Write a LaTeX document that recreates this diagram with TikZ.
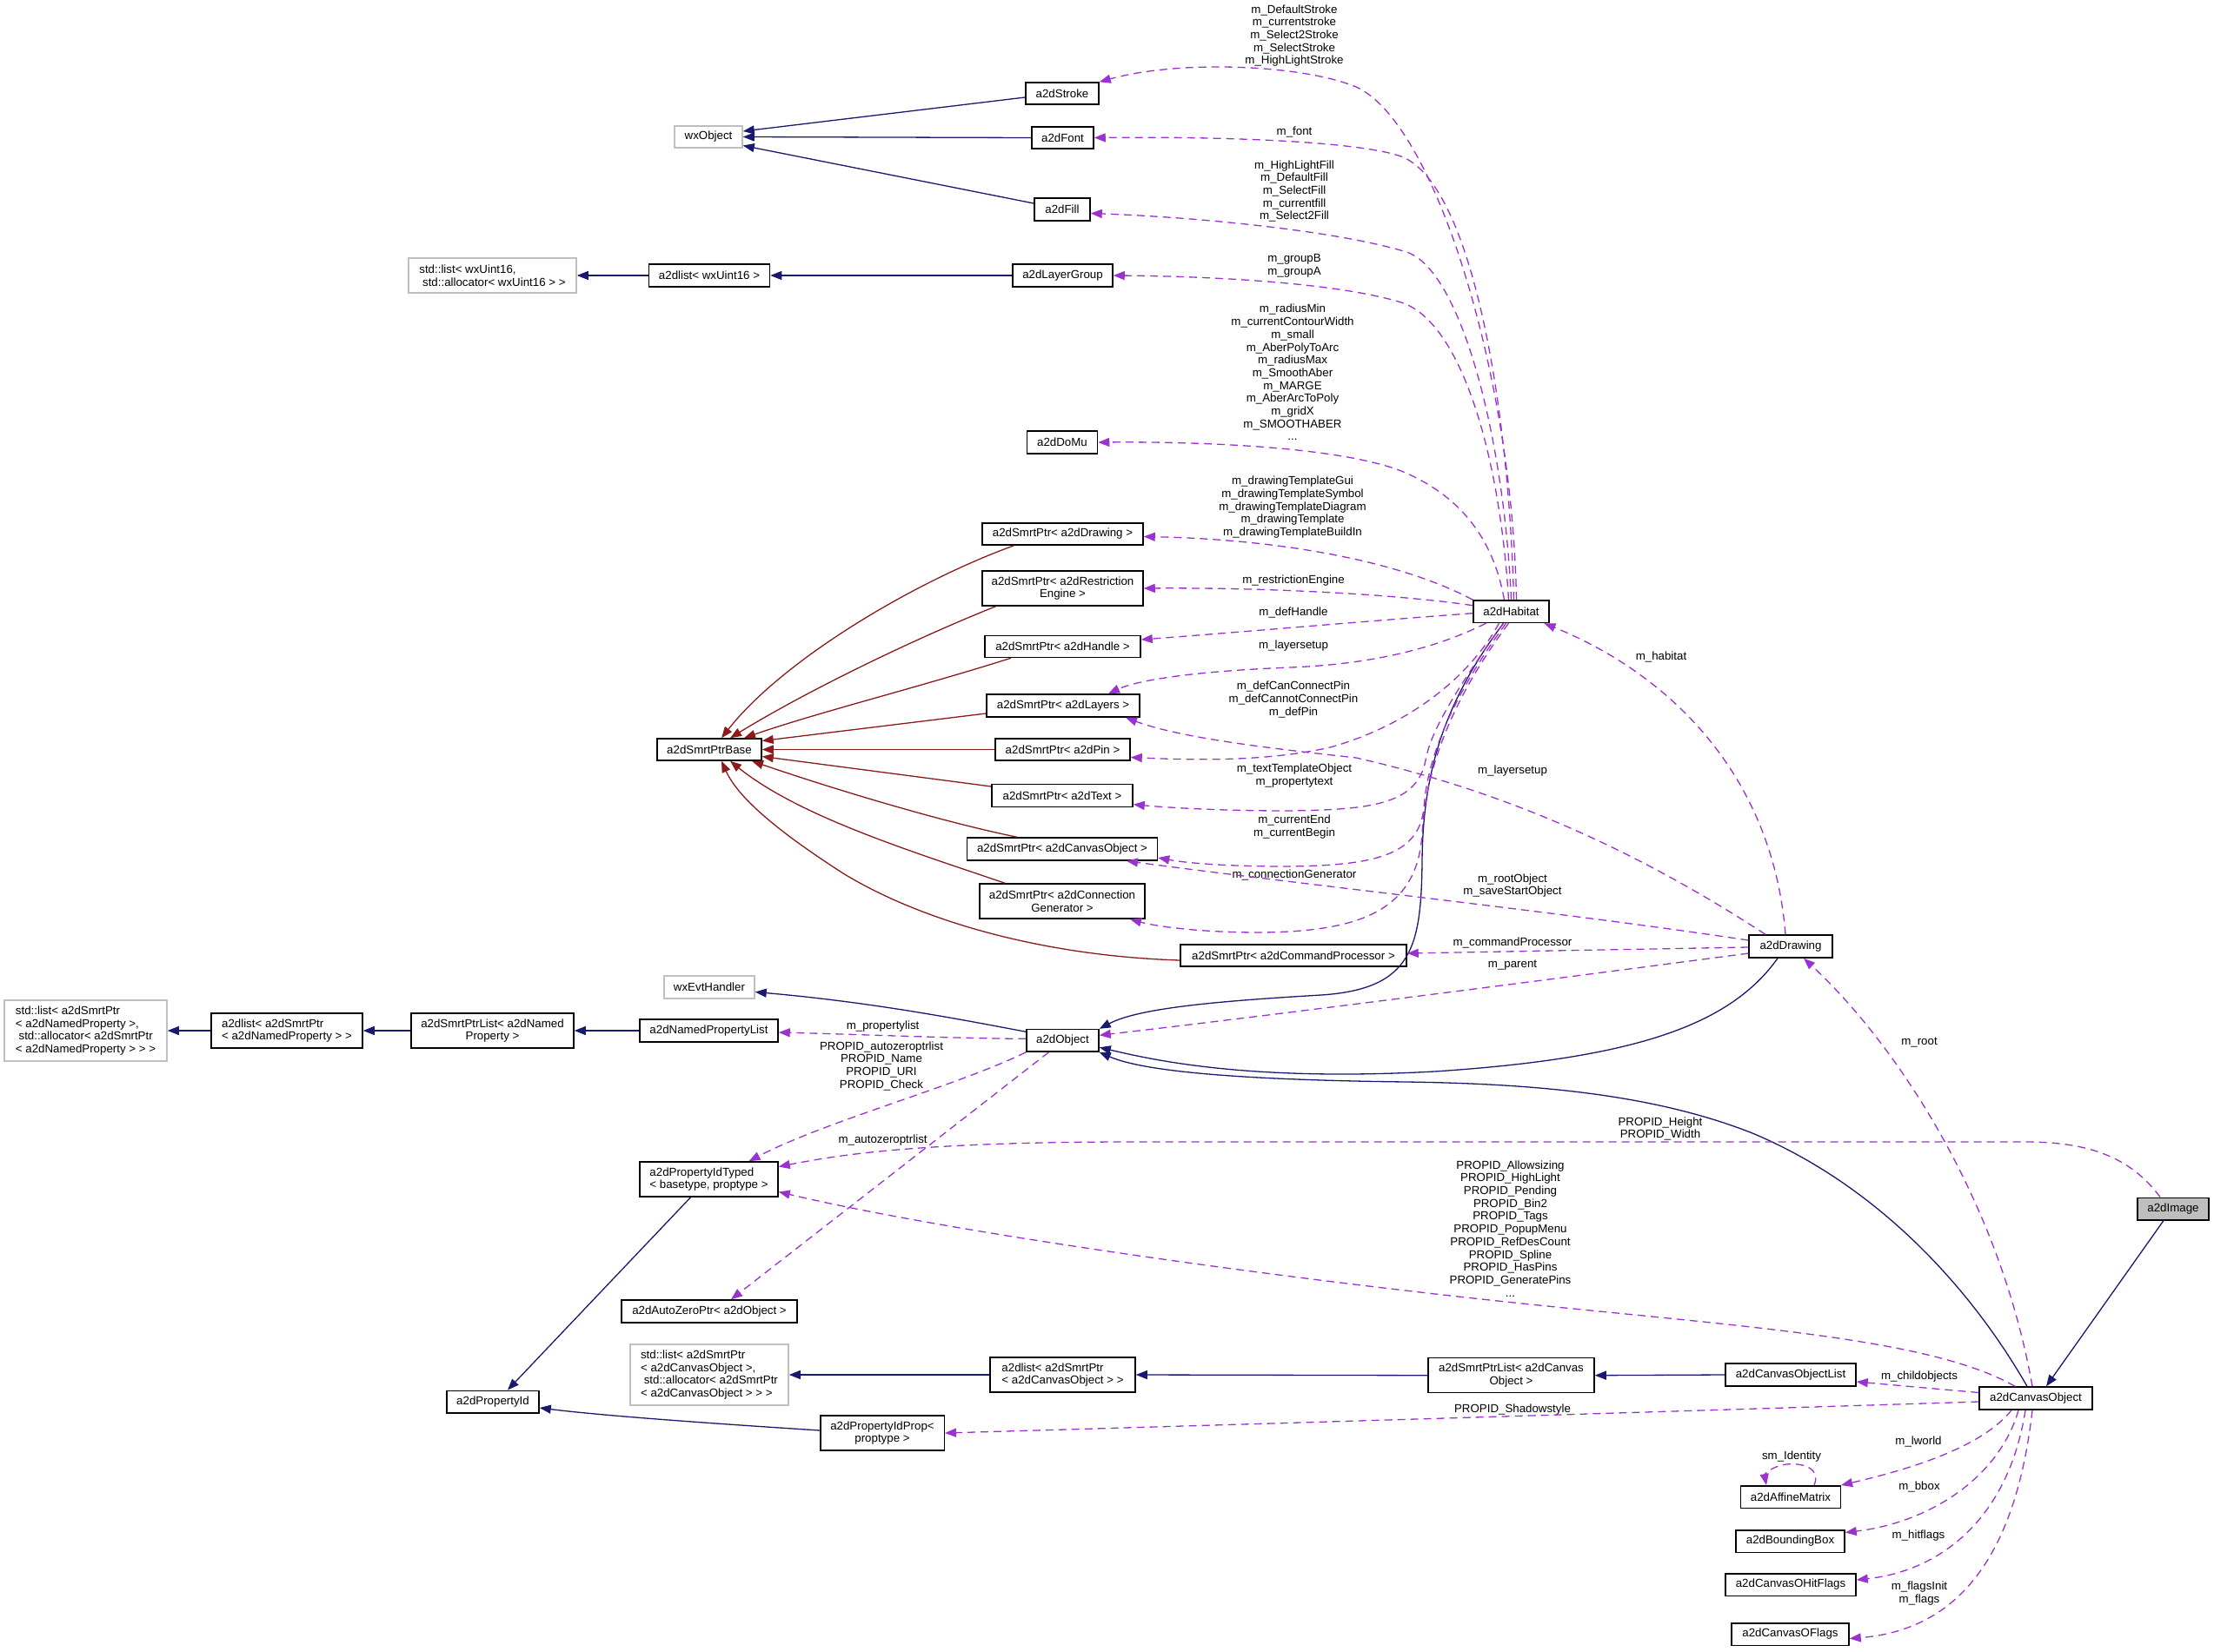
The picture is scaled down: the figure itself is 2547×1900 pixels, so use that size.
\documentclass[tikz,border=0pt]{standalone}
\usepackage{fontspec}
\setmainfont{Liberation Sans}
\usetikzlibrary{arrows.meta}
\definecolor{navyc}{HTML}{191970}
\definecolor{redc}{HTML}{8B1A1A}
\definecolor{purc}{HTML}{9A32CD}
\definecolor{extgray}{HTML}{BFBFBF}
\newcommand{\dgfont}{\fontsize{13.3}{14.7}\selectfont}
\begin{document}
\begin{tikzpicture}[x=1pt,y=-1pt,
  cls/.style={draw=black, fill=white, line width=1.5pt, inner sep=0pt, font=\dgfont, align=center},
  ext/.style={cls, draw=extgray},
  sz/.style 2 args={minimum width=#1pt, minimum height=#2pt},
  lbl/.style={inner sep=0pt, font=\dgfont, align=center},
  inh/.style={draw=navyc, line width=1.3pt, -{Triangle[length=13pt,width=10pt]}},
  priv/.style={draw=redc, line width=1.3pt, -{Triangle[length=13pt,width=10pt]}},
  use/.style={draw=purc, line width=1.3pt, dash pattern=on 9pt off 6pt, -{Triangle[length=13pt,width=10pt]}}]
\useasboundingbox (0,0) rectangle (2547,1900);
\fill[white] (0,0) rectangle (2547,1900);

% nodes
\node[ext, sz={78}{25}] (wxobject) at (815,157.5) {wxObject};
\node[cls, sz={84}{25}] (stroke) at (1222,107.5) {a2dStroke};
\node[cls, sz={71}{25}] (font) at (1222.5,158.5) {a2dFont};
\node[cls, sz={64}{26}] (fill) at (1222,241) {a2dFill};
\node[ext, sz={193}{40}, align=left] (stdlistu) at (566.5,317) {std::list< wxUint16,\\\hspace*{.28em}std::allocator< wxUint16 > >};
\node[cls, sz={139}{26}] (a2dlistu) at (816,317) {a2dlist< wxUint16 >};
\node[cls, sz={115}{26}] (layergroup) at (1222.5,317) {a2dLayerGroup};
\node[cls, sz={81}{26}] (domu) at (1222,509) {a2dDoMu};
\node[cls, sz={185}{25}] (spdrawing) at (1222.5,614.5) {a2dSmrtPtr< a2dDrawing >};
\node[cls, sz={185}{40}] (sprestr) at (1222.5,677) {a2dSmrtPtr< a2dRestriction\\Engine >};
\node[cls, sz={179}{25}] (sphandle) at (1222.5,744) {a2dSmrtPtr< a2dHandle >};
\node[cls, sz={176}{26}] (splayers) at (1223,812) {a2dSmrtPtr< a2dLayers >};
\node[cls, sz={155}{25}] (sppin) at (1222.5,862.5) {a2dSmrtPtr< a2dPin >};
\node[cls, sz={162}{26}] (sptext) at (1222,915.7) {a2dSmrtPtr< a2dText >};
\node[cls, sz={219}{26}] (spco) at (1222,977) {a2dSmrtPtr< a2dCanvasObject >};
\node[cls, sz={190}{40}] (spcg) at (1222,1037) {a2dSmrtPtr< a2dConnection\\Generator >};
\node[cls, sz={260}{25}] (spcmd) at (1488,1099.5) {a2dSmrtPtr< a2dCommandProcessor >};
\node[cls, sz={120}{25}] (spbase) at (816,862.5) {a2dSmrtPtrBase};
\node[cls, sz={87}{25.5}] (habitat) at (1738.5,703.7) {a2dHabitat};
\node[cls, sz={95.6}{26}] (drawing) at (2060,1089) {a2dDrawing};
\node[ext, sz={104}{26}] (wxevt) at (816,1136) {wxEvtHandler};
\node[ext, sz={187}{70}, align=left] (stdlistnp) at (98.5,1186) {std::list< a2dSmrtPtr\\< a2dNamedProperty >,\\\hspace*{.28em}std::allocator< a2dSmrtPtr\\< a2dNamedProperty > > >};
\node[cls, sz={174}{40}, align=left] (a2dlistnp) at (330,1186) {a2dlist< a2dSmrtPtr\\< a2dNamedProperty > >};
\node[cls, sz={187}{40}] (smrtlistnp) at (566.5,1186) {a2dSmrtPtrList< a2dNamed\\Property >};
\node[cls, sz={159}{26}] (nplist) at (815.5,1186) {a2dNamedPropertyList};
\node[cls, sz={83}{25.5}] (a2dobject) at (1222.5,1197.3) {a2dObject};
\node[cls, sz={159}{40}, align=left] (proptyped) at (815.5,1357) {a2dPropertyIdTyped\\< basetype, proptype >};
\node[cls, sz={202}{26}] (autozero) at (816,1509) {a2dAutoZeroPtr< a2dObject >};
\node[ext, sz={182}{70}, align=left] (stdlistco) at (816,1582) {std::list< a2dSmrtPtr\\< a2dCanvasObject >,\\\hspace*{.28em}std::allocator< a2dSmrtPtr\\< a2dCanvasObject > > >};
\node[cls, sz={167}{40}, align=left] (a2dlistco) at (1222.5,1582) {a2dlist< a2dSmrtPtr\\< a2dCanvasObject > >};
\node[cls, sz={106}{25.5}] (propid) at (567,1613) {a2dPropertyId};
\node[cls, sz={142.5}{40}] (propidprop) at (1015,1649) {a2dPropertyIdProp<\\proptype >};
\node[cls, sz={191}{40}] (smrtlistco) at (1738.5,1582.7) {a2dSmrtPtrList< a2dCanvas\\Object >};
\node[cls, sz={150}{26}] (colist) at (2060,1582) {a2dCanvasObjectList};
\node[cls, sz={130}{26}] (canvasobject) at (2342,1609) {a2dCanvasObject};
\node[cls, fill=extgray, sz={82}{25.5}] (image) at (2500,1391) {a2dImage};
\node[cls, sz={114.6}{25.5}] (affine) at (2060,1722.5) {a2dAffineMatrix};
\node[cls, sz={125}{25.5}] (bbox) at (2059.5,1773.5) {a2dBoundingBox};
\node[cls, sz={150}{25.5}] (hitflags) at (2060,1823.5) {a2dCanvasOHitFlags};
\node[cls, sz={135}{25.5}] (oflags) at (2059.5,1880.5) {a2dCanvasOFlags};

% labels
\node[lbl] (l1) at (1489,41) {m\_DefaultStroke\\m\_currentstroke\\m\_Select2Stroke\\m\_SelectStroke\\m\_HighLightStroke};
\node[lbl] (l2) at (1489,152) {m\_font};
\node[lbl] (l3) at (1489,220) {m\_HighLightFill\\m\_DefaultFill\\m\_SelectFill\\m\_currentfill\\m\_Select2Fill};
\node[lbl] (l4) at (1489,306) {m\_groupB\\m\_groupA};
\node[lbl] (l5) at (1487,428.6) {m\_radiusMin\\m\_currentContourWidth\\m\_small\\m\_AberPolyToArc\\m\_radiusMax\\m\_SmoothAber\\m\_MARGE\\m\_AberArcToPoly\\m\_gridX\\m\_SMOOTHABER\\...};
\node[lbl] (l6) at (1487,583.6) {m\_drawingTemplateGui\\m\_drawingTemplateSymbol\\m\_drawingTemplateDiagram\\m\_drawingTemplate\\m\_drawingTemplateBuildIn};
\node[lbl] (l7) at (1488,668.5) {m\_restrictionEngine};
\node[lbl] (l8) at (1488,704.5) {m\_defHandle};
\node[lbl] (l9) at (1488,742.8) {m\_layersetup};
\node[lbl] (l10) at (1488,805) {m\_defCanConnectPin\\m\_defCannotConnectPin\\m\_defPin};
\node[lbl] (l11) at (1489,892.5) {m\_textTemplateObject\\m\_propertytext};
\node[lbl] (l12) at (1489,951.4) {m\_currentEnd\\m\_currentBegin};
\node[lbl] (l13) at (1489,1006.6) {m\_connectionGenerator};
\node[lbl] (l14) at (1740,887) {m\_layersetup};
\node[lbl] (l15) at (1740,1019) {m\_rootObject\\m\_saveStartObject};
\node[lbl] (l16) at (1740,1084.6) {m\_commandProcessor};
\node[lbl] (l17) at (1740,1111) {m\_parent};
\node[lbl] (l18) at (1911,756) {m\_habitat};
\node[lbl] (l19) at (2208,1200) {m\_root};
\node[lbl] (l20) at (1910,1299) {PROPID\_Height\\PROPID\_Width};
\node[lbl] (l21) at (1737.5,1413.8) {PROPID\_Allowsizing\\PROPID\_HighLight\\PROPID\_Pending\\PROPID\_Bin2\\PROPID\_Tags\\PROPID\_PopupMenu\\PROPID\_RefDesCount\\PROPID\_Spline\\PROPID\_HasPins\\PROPID\_GeneratePins\\...};
\node[lbl] (l22) at (2208,1584) {m\_childobjects};
\node[lbl] (l23) at (1740,1622.4) {PROPID\_Shadowstyle};
\node[lbl] (l24) at (2207,1659) {m\_lworld};
\node[lbl] (l25) at (2061,1676.5) {sm\_Identity};
\node[lbl] (l26) at (2208,1711) {m\_bbox};
\node[lbl] (l27) at (2207,1767) {m\_hitflags};
\node[lbl] (l28) at (2208,1833.6) {m\_flagsInit\\m\_flags};
\node[lbl] (l29) at (1015.6,1181) {m\_propertylist};
\node[lbl] (l30) at (1014,1226.6) {PROPID\_autozeroptrlist\\PROPID\_Name\\PROPID\_URI\\PROPID\_Check};
\node[lbl] (l31) at (1015.6,1312) {m\_autozeroptrlist};

% inheritance (blue)
\draw[inh] ([yshift=-4.5pt]stroke.west) -- ([yshift=6.5pt]wxobject.east);
\draw[inh] (font.west) -- (wxobject.east);
\draw[inh] ([yshift=7pt]fill.west) -- ([yshift=-10pt]wxobject.east);
\draw[inh] (a2dlistu.west) -- (stdlistu.east);
\draw[inh] (layergroup.west) -- (a2dlistu.east);
\draw[inh] ([yshift=10pt]a2dobject.west) .. controls (1100,1172) and (1000,1153) .. ([yshift=-5.5pt]wxevt.east);
\draw[inh] (nplist.west) -- (smrtlistnp.east);
\draw[inh] (smrtlistnp.west) -- (a2dlistnp.east);
\draw[inh] (a2dlistnp.west) -- (stdlistnp.east);
\draw[inh] ([xshift=-9pt]habitat.south) .. controls (1660,810) and (1637,890) .. (1636,990) .. controls (1635,1090) and (1625,1138) .. (1520,1145) .. controls (1400,1152) and (1310,1160) .. (a2dobject.north east);
\draw[inh] ([xshift=-15pt]drawing.south) .. controls (1990,1180) and (1880,1218) .. (1650,1233) .. controls (1430,1245) and (1320,1218) .. ([yshift=-8pt]a2dobject.east);
\draw[inh] ([xshift=-10pt]canvasobject.north) .. controls (2260,1470) and (2150,1360) .. (2016,1304) .. controls (1900,1258) and (1760,1247) .. (1618,1245) .. controls (1450,1243) and (1320,1235) .. (a2dobject.south east);
\draw[inh] ([xshift=-11pt]image.south) -- ([xshift=12pt]canvasobject.north);
\draw[inh] ([xshift=-21pt]proptyped.south) -- ([xshift=17pt]propid.north);
\draw[inh] ([yshift=3pt]propidprop.west) .. controls (850,1640) and (700,1630) .. ([yshift=-7pt]propid.east);
\draw[inh] (a2dlistco.west) -- (stdlistco.east);
\draw[inh] (smrtlistco.west) -- (a2dlistco.east);
\draw[inh] (colist.west) -- (smrtlistco.east);

% private inheritance (red)
\draw[priv] ([xshift=-56pt]spdrawing.south) .. controls (1050,670) and (900,760) .. ([xshift=14pt]spbase.north);
\draw[priv] ([xshift=-77pt]sprestr.south) .. controls (1040,740) and (920,800) .. ([xshift=24pt]spbase.north);
\draw[priv] ([xshift=-59.5pt]sphandle.south) .. controls (1060,790) and (940,820) .. ([xshift=40pt]spbase.north);
\draw[priv] ([yshift=-9pt]splayers.west) -- ([yshift=10pt]spbase.east);
\draw[priv] (sppin.west) -- (spbase.east);
\draw[priv] ([yshift=10.7pt]sptext.west) -- ([yshift=-8pt]spbase.east);
\draw[priv] ([xshift=-52pt]spco.north) .. controls (1080,945) and (950,905) .. ([xshift=49pt]spbase.south);
\draw[priv] ([xshift=-66pt]spcg.north) .. controls (1050,980) and (920,940) .. ([xshift=24pt]spbase.south);
\draw[priv] ([yshift=-5.5pt]spcmd.west) .. controls (1200,1100) and (1060,1060) .. (970,1005) .. controls (900,960) and (850,920) .. ([xshift=14pt]spbase.south);

% usage (purple dashed) from a2dHabitat
\draw[use] ([xshift=6pt]habitat.north) .. controls (1740,430) and (1650,140) .. (1560,100) .. controls (1500,75) and (1360,68) .. (stroke.north east);
\draw[use] ([xshift=3pt]habitat.north) .. controls (1735,450) and (1690,210) .. (1612,180) .. controls (1560,162) and (1400,157) .. (font.east);
\draw[use] (habitat.north) .. controls (1730,500) and (1680,310) .. (1618,290) .. controls (1540,266) and (1380,250) .. ([yshift=-4.5pt]fill.east);
\draw[use] ([xshift=-3pt]habitat.north) .. controls (1725,520) and (1680,370) .. (1612,348) .. controls (1540,326) and (1400,318) .. (layergroup.east);
\draw[use] ([xshift=-8pt]habitat.north) .. controls (1718,620) and (1680,570) .. (1612,542) .. controls (1540,514) and (1380,508) .. (domu.east);
\draw[use] (habitat.north west) .. controls (1600,640) and (1450,620) .. ([yshift=-3pt]spdrawing.east);
\draw[use] ([yshift=7pt]habitat.west) .. controls (1600,683) and (1450,676) .. (sprestr.east);
\draw[use] ([yshift=-2pt]habitat.west) .. controls (1580,714) and (1420,728) .. ([yshift=8pt]sphandle.east);
\draw[use] ([xshift=-29pt]habitat.south) .. controls (1640,752) and (1560,765) .. (1485,768) .. controls (1380,772) and (1310,782) .. ([xshift=52pt]splayers.north);
\draw[use] ([xshift=-14pt]habitat.south) .. controls (1690,780) and (1620,835) .. (1530,860) .. controls (1450,878) and (1360,874) .. ([yshift=-9pt]sppin.east);
\draw[use] ([xshift=-9pt]habitat.south) .. controls (1670,800) and (1645,845) .. (1640,875) .. controls (1630,925) and (1580,932) .. (1480,933) .. controls (1400,933) and (1340,929) .. ([yshift=-10pt]sptext.east);
\draw[use] ([xshift=-6pt]habitat.south) .. controls (1672,800) and (1642,870) .. (1638,930) .. controls (1632,985) and (1580,996) .. (1480,997) .. controls (1420,997) and (1370,994) .. ([yshift=-10pt]spco.east);
\draw[use] ([xshift=-3pt]habitat.south) .. controls (1674,800) and (1640,880) .. (1636,960) .. controls (1630,1045) and (1570,1072) .. (1450,1073) .. controls (1380,1073) and (1330,1066) .. ([xshift=78pt]spcg.south);

% from a2dDrawing
\draw[use] ([xshift=-6pt]drawing.north) .. controls (2040,900) and (1930,780) .. ([xshift=38pt]habitat.south);
\draw[use] ([xshift=-29pt]drawing.north) .. controls (1900,990) and (1750,915) .. (1560,872) .. controls (1470,862) and (1360,850) .. ([xshift=72pt]splayers.south);
\draw[use] ([yshift=7pt]drawing.west) .. controls (1800,1050) and (1500,1018) .. ([xshift=74pt]spco.south);
\draw[use] ([yshift=-1pt]drawing.west) -- ([yshift=2.5pt]spcmd.east);
\draw[use] ([yshift=-8pt]drawing.west) .. controls (1800,1125) and (1450,1170) .. ([yshift=6pt]a2dobject.east);

% from a2dCanvasObject and a2dImage
\draw[use] ([xshift=-4pt]canvasobject.north) .. controls (2300,1380) and (2180,1200) .. ([xshift=15pt]drawing.south);
\draw[use] ([xshift=-24pt]canvasobject.north) .. controls (2230,1545) and (2050,1530) .. (1800,1505) .. controls (1500,1475) and (1100,1420) .. ([yshift=-14.5pt]proptyped.east);
\draw[use] ([xshift=-15pt]image.north) .. controls (2450,1330) and (2400,1314) .. (2330,1314) -- (1300,1314) .. controls (1050,1314) and (960,1330) .. ([yshift=14.5pt]proptyped.east);
\draw[use] ([yshift=6.5pt]canvasobject.west) -- ([yshift=-8pt]colist.east);
\draw[use] ([yshift=-4pt]canvasobject.west) .. controls (1900,1625) and (1400,1640) .. (propidprop.east);
\draw[use] ([xshift=-28pt]canvasobject.south) .. controls (2280,1665) and (2200,1690) .. (affine.north east);
\draw[use] ([xshift=-20pt]canvasobject.south) .. controls (2300,1700) and (2220,1752) .. ([yshift=10pt]bbox.east);
\draw[use] ([xshift=-12pt]canvasobject.south) .. controls (2310,1750) and (2230,1808) .. ([yshift=5.5pt]hitflags.east);
\draw[use] ([xshift=-4pt]canvasobject.south) .. controls (2320,1780) and (2260,1875) .. ([yshift=-5pt]oflags.east);
\draw[use] ([xshift=27pt]affine.north) .. controls (2095,1690) and (2075,1683) .. (2055,1685) .. controls (2035,1688) and (2030,1698) .. ([xshift=-28pt]affine.north);

% from a2dObject
\draw[use] ([yshift=2pt]a2dobject.west) .. controls (1100,1195) and (980,1190) .. ([yshift=-2pt]nplist.east);
\draw[use] (a2dobject.south west) .. controls (1100,1250) and (950,1290) .. ([xshift=46pt]proptyped.north);
\draw[use] ([xshift=-16pt]a2dobject.south) -- ([xshift=25pt]autozero.north);
\end{tikzpicture}
\end{document}
